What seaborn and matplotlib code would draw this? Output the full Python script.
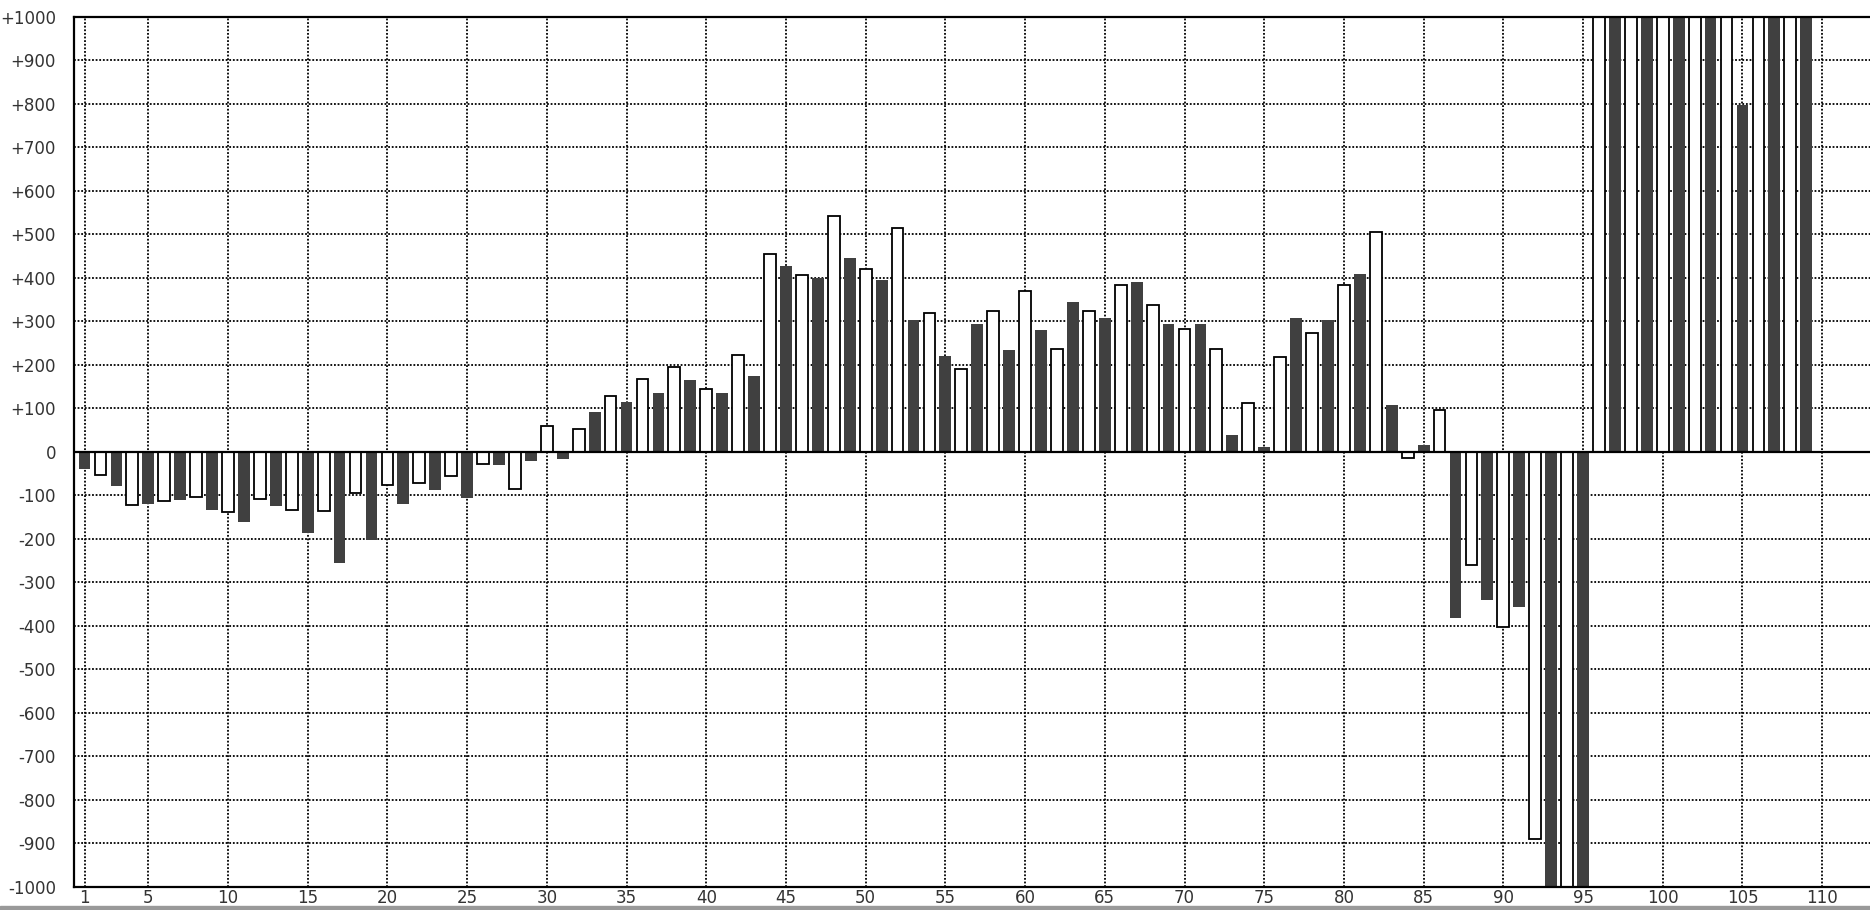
import pandas as pd
import matplotlib
matplotlib.use("Agg")
import matplotlib.pyplot as plt
from matplotlib.patches import Rectangle
import seaborn as sns

# bar values, position 1..109
dark_positions = list(range(1, 110, 2))
dark_values = [-40, -78, -120, -111, -134, -162, -125, -186, -257, -203,
               -120, -87, -106, -31, -21, -16, 91, 114, 136, 164,
               136, 173, 427, 400, 446, 395, 302, 219, 293, 233,
               279, 344, 307, 390, 293, 293, 38, 11, 307, 302,
               409, 108, 15, -382, -341, -356, -1000, -1000, 1000, 1000,
               1000, 1000, 797, 1000, 1000]
light_positions = list(range(2, 110, 2))
light_values = [-53, -123, -114, -105, -138, -109, -133, -137, -95, -77,
                -71, -57, -29, -86, 60, 52, 127, 166, 195, 144,
                222, 454, 407, 542, 421, 514, 319, 190, 324, 370,
                236, 324, 384, 338, 282, 236, 111, 217, 273, 384,
                504, -15, 97, -261, -404, -891, -1000, 1000, 1000, 1000,
                1000, 1000, 1000, 1000]

x_ticks = [1] + list(range(5, 111, 5))
y_ticks = list(range(-1000, 1001, 100))
y_labels = ["0" if v == 0 else f"{v:+d}" for v in y_ticks]

dark = pd.DataFrame({"pos": dark_positions, "val": dark_values})
light = pd.DataFrame({"pos": light_positions, "val": light_values})

sns.set_theme(style="white")
plt.rcParams["font.family"] = ["DejaVu Sans"]

fig = plt.figure(figsize=(18.7, 9.1), dpi=100)
ax = fig.add_axes([74 / 1870, 1 - 886.7 / 910, 1 - 74 / 1870, (886.7 - 16.7) / 910])

sns.barplot(data=dark, x="pos", y="val", native_scale=True, width=0.37,
            color="#404040", saturation=1, linewidth=0, errorbar=None, ax=ax)
sns.barplot(data=light, x="pos", y="val", native_scale=True, width=0.37,
            color="white", saturation=1, edgecolor="black", linewidth=1.3,
            errorbar=None, ax=ax)

ax.axhline(0, color="black", lw=1.6, zorder=5)

ax.set_xlim(0.34, 113.0)
ax.set_ylim(-1000, 1000)
ax.set_xticks(x_ticks)
ax.set_xticklabels([str(t) for t in x_ticks])
ax.set_yticks(y_ticks)
ax.set_yticklabels(y_labels)
ax.set_xlabel("")
ax.set_ylabel("")
ax.tick_params(axis="y", length=0, pad=13, labelsize=12, labelcolor="#333333")
ax.tick_params(axis="x", length=0, pad=2, labelsize=12, labelcolor="#333333")

ax.set_axisbelow(True)
ax.grid(True, color="black", linestyle=(0, (1, 1)), linewidth=1.3)

for side in ["left", "top", "bottom"]:
    ax.spines[side].set_visible(True)
    ax.spines[side].set_color("black")
    ax.spines[side].set_linewidth(1.6)
ax.spines["right"].set_visible(False)

fig.patches.append(Rectangle((0, 0), 1, 4 / 910, transform=fig.transFigure,
                             color="#999999", zorder=0))

fig.savefig("out.png", dpi=100)
